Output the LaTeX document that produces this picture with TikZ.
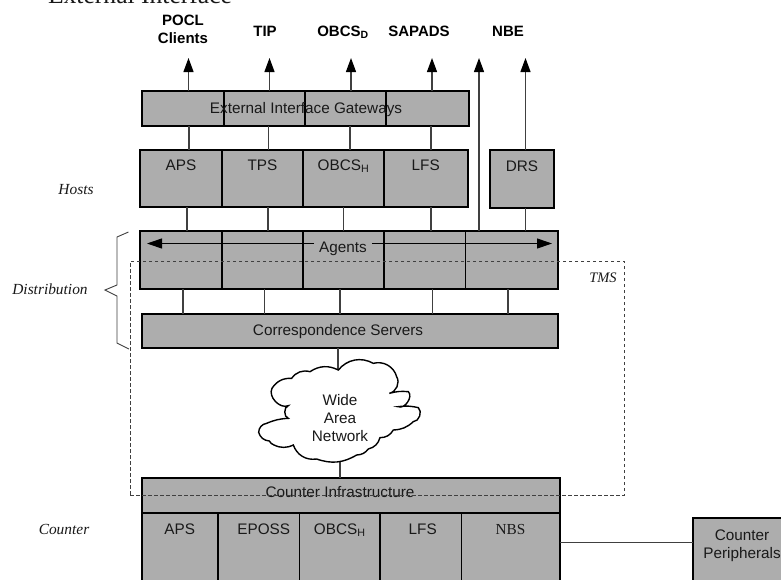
\documentclass[tikz,border=0pt]{standalone}
\usepackage{fontspec}
\setmainfont{Liberation Sans}
\newfontfamily\seriffont{Liberation Serif}
\usetikzlibrary{arrows.meta}
\definecolor{boxgray}{gray}{0.68}
\definecolor{linegray}{gray}{0.25}
\definecolor{inkgray}{gray}{0.1}
\tikzset{
  x=1pt,y=-1pt,
  every node/.style={inner sep=0pt,outer sep=0pt,text=inkgray,font=\fontsize{15.3}{18.5}\selectfont},
  cellbox/.style={draw=black,line width=1.2pt,fill=boxgray,anchor=north west,align=center},
  topcell/.style n args={3}{cellbox,minimum width=#1,minimum height=#2,text height=#3,text depth=#2-#3},
  midcell/.style 2 args={cellbox,minimum width=#1,minimum height=#2},
  frame/.style={draw=black,line width=2pt},
  link/.style={draw=linegray,line width=1.2pt},
  uparrow/.style={link,-{Triangle[length=14pt,width=10pt,color=black]}},
  sidearrow/.style={draw=black,line width=1pt,-{Triangle[length=15pt,width=10pt,color=black]}},
  lab/.style={anchor=base},
  boldlab/.style={anchor=base,text=black,font=\fontsize{15}{18}\selectfont\bfseries},
  sidelab/.style={anchor=base,font=\fontsize{15.4}{18}\selectfont\seriffont\itshape},
  dashbox/.style={draw=linegray,line width=1pt,dash pattern=on 3.5pt off 2.5pt,minimum width=494pt,minimum height=234pt},
  brace/.style={draw=linegray,line width=0.9pt},
  cloudline/.style={draw=black,line width=1.4pt,fill=white},
}
\begin{document}
\begin{tikzpicture}
\useasboundingbox (0,0) rectangle (781,579);
\fill[white] (0,0) rectangle (781,579);

% title cut by the top edge, as in the reference
\node[anchor=base west,font=\fontsize{25.6}{28}\selectfont\seriffont] (title) at (48,3) {External Interface};

% free ends and x positions of the connectors
\coordinate (a1) at (188.5,58);
\coordinate (a2) at (269.5,58);
\coordinate (a3) at (351,58);
\coordinate (a4) at (432,58);
\coordinate (a5) at (479,58);
\coordinate (a6) at (525.5,58);
\coordinate (g1) at (189,0);
\coordinate (g2) at (268.5,0);
\coordinate (g3) at (350,0);
\coordinate (g4) at (431,0);
\coordinate (h1) at (187,0);
\coordinate (h2) at (268,0);
\coordinate (h3) at (343.5,0);
\coordinate (h4) at (431,0);
\coordinate (h5) at (525.5,0);
\coordinate (d1) at (183,0);
\coordinate (d2) at (264.5,0);
\coordinate (d3) at (340,0);
\coordinate (d4) at (432.5,0);
\coordinate (d5) at (508,0);
\coordinate (cloudTop) at (338,370);
\coordinate (cloudBot) at (340,459);
\coordinate (arrL) at (147,243.5);
\coordinate (arrR) at (552,243.5);
\coordinate (pk) at (0,542.5);

% top labels
\node[boldlab] (pocl) at (183,25) {POCL};
\node[boldlab] (clients) at (183,43) {Clients};
\node[boldlab] (tip) at (265,36) {TIP};
\node[boldlab] (obcsd) at (343,36) {OBCS\textsubscript{D}};
\node[boldlab] (sapads) at (419,36) {SAPADS};
\node[boldlab] (nbe) at (508,36) {NBE};

% gateways
\node[midcell={82.5pt}{35pt}] (gwA) at (141.5,91) {};
\node[midcell={81pt}{35pt}] (gwB) at (224,91) {};
\node[midcell={81pt}{35pt}] (gwC) at (305,91) {};
\node[midcell={83pt}{35pt}] (gwD) at (386,91) {};
\draw[frame] (gwA.north west) rectangle (gwD.south east);
\node[lab] (gwT) at (306,113) {External Interface Gateways};

% hosts
\node[topcell={82pt}{57.5pt}{20.5pt}] (hA) at (140,149.5) {APS};
\node[topcell={81pt}{57.5pt}{20.5pt}] (hB) at (222,149.5) {TPS};
\node[topcell={81pt}{57.5pt}{20.5pt}] (hC) at (303,149.5) {OBCS\textsubscript{H}};
\node[topcell={83.5pt}{57.5pt}{20.5pt}] (hD) at (384,149.5) {LFS};
\draw[frame] (hA.north west) rectangle (hD.south east);
\node[topcell={64pt}{58pt}{21.5pt},line width=2pt] (hE) at (490,150) {DRS};

% agents
\node[midcell={82pt}{58pt}] (agA) at (140,231) {};
\node[midcell={81pt}{58pt}] (agB) at (222,231) {};
\node[midcell={81pt}{58pt}] (agC) at (303,231) {};
\node[midcell={81.5pt}{58pt}] (agD) at (384,231) {};
\node[midcell={92.5pt}{58pt}] (agE) at (465.5,231) {};
\draw[frame] (agA.north west) rectangle (agE.south east);
\node[lab] (agT) at (343,252) {Agents};

% correspondence servers
\node[midcell={416.5pt}{34.5pt},line width=2pt] (corr) at (141.5,313.5) {};
\node[lab] (corrT) at (338,335) {Correspondence Servers};

% counter
\node[midcell={418pt}{35pt},line width=2pt] (inf) at (141.5,478) {};
\node[lab] (infT) at (340,497) {Counter Infrastructure};
\node[topcell={76.5pt}{77pt}{21pt}] (cA) at (141.5,513) {APS};
\node[topcell={81.5pt}{77pt}{21pt}] (cB) at (218,513) {\hspace{10pt}EPOSS};
\node[topcell={80.5pt}{77pt}{21pt}] (cC) at (299.5,513) {OBCS\textsubscript{H}};
\node[topcell={81.5pt}{77pt}{21pt}] (cD) at (380,513) {\hspace{4pt}LFS};
\node[topcell={98pt}{77pt}{21pt}] (cE) at (461.5,513) {{\seriffont NBS}};
\draw[frame] (cA.north west) rectangle (cE.south east);

% peripherals
\node[midcell={98pt}{72pt},line width=2pt] (peri) at (693,518) {};
\node[lab] (periA) at (742,540) {Counter};
\node[lab] (periB) at (742,558) {Peripherals};

% connectors
\draw[uparrow] (gwA.north -| a1) -- (a1);
\draw[uparrow] (gwB.north -| a2) -- (a2);
\draw[uparrow] (gwC.north -| a3) -- (a3);
\draw[uparrow] (gwD.north -| a4) -- (a4);
\draw[uparrow] (agE.north -| a5) -- (a5);
\draw[uparrow] (hE.north -| a6) -- (a6);
\draw[link] (gwA.south -| g1) -- (hA.north -| g1);
\draw[link] (gwB.south -| g2) -- (hB.north -| g2);
\draw[link] (gwC.south -| g3) -- (hC.north -| g3);
\draw[link] (gwD.south -| g4) -- (hD.north -| g4);
\draw[link] (hA.south -| h1) -- (agA.north -| h1);
\draw[link] (hB.south -| h2) -- (agB.north -| h2);
\draw[link] (hC.south -| h3) -- (agC.north -| h3);
\draw[link] (hD.south -| h4) -- (agD.north -| h4);
\draw[link] (hE.south -| h5) -- (agE.north -| h5);
\draw[link] (agA.south -| d1) -- (corr.north -| d1);
\draw[link] (agB.south -| d2) -- (corr.north -| d2);
\draw[link] (agC.south -| d3) -- (corr.north -| d3);
\draw[link] (agD.south -| d4) -- (corr.north -| d4);
\draw[link] (agE.south -| d5) -- (corr.north -| d5);
\draw[link] (corr.south -| cloudTop) -- (cloudTop);
\draw[link] (cloudBot) -- (inf.north -| cloudBot);
\draw[link] (cE.east |- pk) -- (peri.west |- pk);
\draw[sidearrow] (agT.west |- arrL) ++(-5,0) -- (arrL);
\draw[sidearrow] (agT.east |- arrR) ++(5,0) -- (arrR);

% cloud
\begin{scope}[shift={(250,355)},x=0.3333pt,y=-0.3333pt]
\draw[cloudline] (125,70) to[bend left=35] (180,50) to[bend left=30] (265,45)
  to[bend left=40] (370,25) to[bend left=45] (440,65) to[bend left=55] (418,115)
  to[bend left=10] (475,110) to[bend left=80] (445,155)
  to[bend left=10] (505,158) to[bend left=70] (490,200)
  to[bend left=20] (430,225) to[bend left=30] (390,248) to[bend left=30] (355,282)
  to[bend left=25] (320,300) to[bend left=25] (200,312) to[bend left=40] (130,270)
  to[bend left=25] (72,270) to[bend left=20] (58,258) to[bend left=35] (26,232)
  to[bend left=40] (50,205)
  to[bend left=10] (115,190) to[bend left=75] (115,152)
  to[bend left=70] (66,100) to[bend left=30] cycle;
\end{scope}
\node[lab] (w1) at (340,405) {Wide};
\node[lab] (w2) at (340,423) {Area};
\node[lab] (w3) at (340,441) {Network};

% TMS region and side labels
\node[dashbox] (tms) at (377,378) {};
\node[sidelab,font=\fontsize{14.5}{18}\selectfont\seriffont\itshape] (tmsT) at (603,282) {TMS};
\node[sidelab] (hosts) at (76,194) {Hosts};
\node[sidelab] (dist) at (50,294) {Distribution};
\node[sidelab] (counter) at (64,534) {Counter};

% brace
\coordinate (b1) at (128.5,232);
\coordinate (b2) at (117,237);
\coordinate (b3) at (117,285);
\coordinate (b4) at (105,290);
\coordinate (b5) at (117,296);
\coordinate (b6) at (117,343);
\coordinate (b7) at (129,349);
\draw[brace] (b1) -- (b2) -- (b3) -- (b4) -- (b5) -- (b6) -- (b7);
\end{tikzpicture}
\end{document}
